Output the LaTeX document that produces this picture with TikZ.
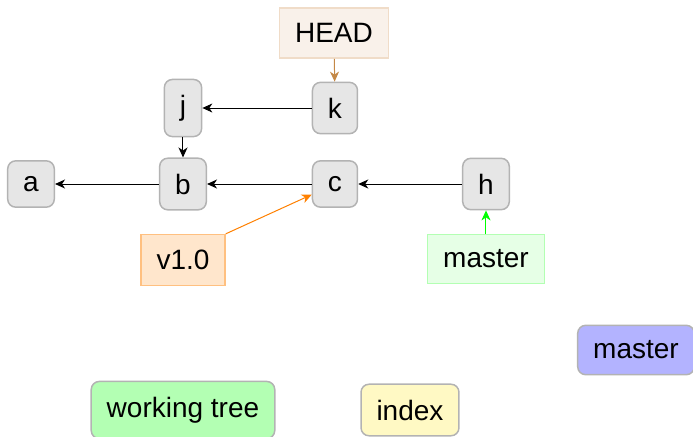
\documentclass[tikz,border=0pt]{standalone}
\usepackage{fontspec}
\setmainfont{Liberation Sans}
\usetikzlibrary{arrows.meta}
\definecolor{commitfill}{RGB}{230,230,230}
\definecolor{commitline}{RGB}{179,179,179}
\definecolor{headfill}{RGB}{249,241,234}
\definecolor{headline}{RGB}{240,220,200}
\definecolor{headarrow}{RGB}{196,136,70}
\definecolor{tagfill}{RGB}{255,230,204}
\definecolor{tagline}{RGB}{255,192,128}
\definecolor{tagarrow}{RGB}{255,128,0}
\definecolor{branchfill}{RGB}{230,255,230}
\definecolor{branchline}{RGB}{179,255,179}
\definecolor{brancharrow}{RGB}{0,255,0}
\definecolor{remotefill}{RGB}{179,179,255}
\definecolor{treefill}{RGB}{179,255,179}
\definecolor{indexfill}{RGB}{255,249,196}
\begin{document}
\begin{tikzpicture}[x=0.5pt, y=-0.5pt, font=\fontsize{14}{16}\selectfont,
	box/.style={inner sep=7.75pt, line width=0.75pt},
	commit/.style={box, rounded corners=4pt, fill=commitfill, draw=commitline},
	area/.style={box, rounded corners=4pt, draw=commitline},
	ref/.style={box, draw=#1line, fill=#1fill},
	link/.style={-{Stealth[length=5pt, width=4.5pt, inset=1.5pt]}, line width=0.5pt}]
	\useasboundingbox (0,0) rectangle (693,436);
	% commits
	\node[commit] (a) at (31,184) {a};
	\node[commit] (b) at (183,184) {b};
	\node[commit] (c) at (335,184) {c};
	\node[commit] (h) at (486,184) {h};
	\node[commit] (j) at (183,108) {j};
	\node[commit] (k) at (335,108) {k};
	% refs
	\node[ref=head] (head) at (334,33) {HEAD};
	\node[ref=tag] (v10) at (183,260) {v1.0};
	\node[ref=branch] (master) at (486,259) {master};
	% areas
	\node[area, fill=remotefill] (remote) at (636,350) {master};
	\node[area, fill=treefill] (wtree) at (183,410) {working tree};
	\node[area, fill=indexfill] (index) at (410,410) {index};
	% history
	\draw[link] (k) -- (j);
	\draw[link] (j) -- (b);
	\draw[link] (b) -- (a);
	\draw[link] (c) -- (b);
	\draw[link] (h) -- (c);
	\draw[link, headarrow] (head) -- (k);
	\draw[link, tagarrow] (v10.north east) -- (c);
	\draw[link, brancharrow] (master) -- (h);
\end{tikzpicture}
\end{document}
